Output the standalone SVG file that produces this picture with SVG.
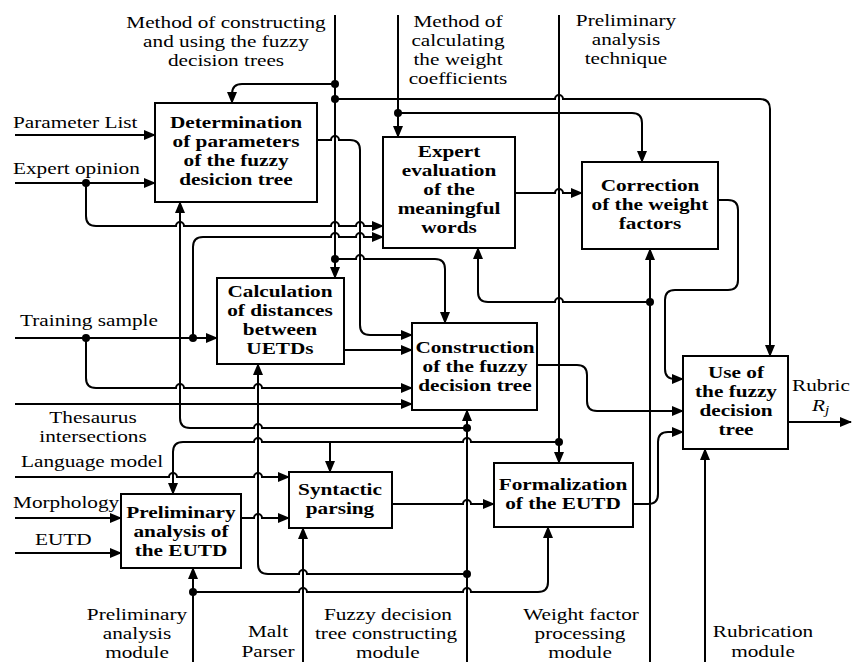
<svg xmlns="http://www.w3.org/2000/svg" width="852" height="662" viewBox="0 0 852 662">
<defs>
<marker id="ar" markerUnits="userSpaceOnUse" markerWidth="12" markerHeight="10" refX="11" refY="5" orient="auto"><path d="M0,0 L12,5 L0,10 z" fill="#000"/></marker>
<style>
.box{fill:#fff;stroke:#000;stroke-width:2}
.bt{font-family:"Liberation Serif",serif;font-weight:bold;font-size:17px;text-anchor:middle}
.lt{font-family:"Liberation Serif",serif;font-size:17px}
.m{text-anchor:middle}
.c{fill:none;stroke:#000;stroke-width:2}
.a{marker-end:url(#ar)}
.d{fill:#000}
</style>
</defs>
<g id="labels">
<text class="lt m" transform="translate(226,0) scale(1.25,1)"><tspan x="0" y="28">Method of constructing</tspan><tspan x="0" y="47">and using the fuzzy</tspan><tspan x="0" y="66">decision trees</tspan></text>
<text class="lt m" transform="translate(458,0) scale(1.25,1)"><tspan x="0" y="27">Method of</tspan><tspan x="0" y="46">calculating</tspan><tspan x="0" y="65">the weight</tspan><tspan x="0" y="84">coefficients</tspan></text>
<text class="lt m" transform="translate(626,0) scale(1.25,1)"><tspan x="0" y="26">Preliminary</tspan><tspan x="0" y="45">analysis</tspan><tspan x="0" y="64">technique</tspan></text>
<text class="lt" transform="translate(13,0) scale(1.25,1)" x="0" y="128">Parameter List</text>
<text class="lt" transform="translate(13,0) scale(1.25,1)" x="0" y="174">Expert opinion</text>
<text class="lt" transform="translate(20,0) scale(1.25,1)" x="0" y="326">Training sample</text>
<text class="lt m" transform="translate(93,0) scale(1.25,1)"><tspan x="0" y="423">Thesaurus</tspan><tspan x="0" y="442">intersections</tspan></text>
<text class="lt" transform="translate(21,0) scale(1.25,1)" x="0" y="467">Language model</text>
<text class="lt" transform="translate(13,0) scale(1.25,1)" x="0" y="508">Morphology</text>
<text class="lt" transform="translate(35,0) scale(1.25,1)" x="0" y="545">EUTD</text>
<text class="lt m" transform="translate(137,0) scale(1.25,1)"><tspan x="0" y="620">Preliminary</tspan><tspan x="0" y="639">analysis</tspan><tspan x="0" y="658">module</tspan></text>
<text class="lt m" transform="translate(268,0) scale(1.25,1)"><tspan x="0" y="637">Malt</tspan><tspan x="0" y="657">Parser</tspan></text>
<text class="lt m" transform="translate(386,0) scale(1.25,1)"><tspan x="1.5" y="620">Fuzzy decision</tspan><tspan x="0" y="639">tree constructing</tspan><tspan x="1.5" y="658">module</tspan></text>
<text class="lt m" transform="translate(580,0) scale(1.25,1)"><tspan x="0.8" y="620">Weight factor</tspan><tspan x="0" y="639">processing</tspan><tspan x="0" y="658">module</tspan></text>
<text class="lt m" transform="translate(763,0) scale(1.25,1)"><tspan x="0" y="637">Rubrication</tspan><tspan x="0" y="657">module</tspan></text>
<text class="lt" transform="translate(792,0) scale(1.25,1)" x="0" y="391">Rubric</text>
<text class="lt" transform="translate(812,0) scale(1.25,1)" x="0" y="411" font-style="italic">R<tspan font-size="12px" dy="3">j</tspan></text>
</g>
<g id="connectors">
<path class="c a" d="M335,15 V278"/>
<path class="c a" d="M335,84 H242 Q232,84 232,94 V103"/>
<path class="c a" d="M335,99 H555 a4,4 0 0 1 8,0 H760 Q770,99 770,109 V356"/>
<path class="c a" d="M335,259 H356 a4,4 0 0 1 8,0 H435 Q445,259 445,269 V323"/>
<path class="c a" d="M398,15 V137"/>
<path class="c a" d="M398,113 H632 Q642,113 642,123 V162"/>
<path class="c a" d="M559,15 V463"/>
<path class="c a" d="M559,442 H471 a4,4 0 0 0 -8,0 H262 a4,4 0 0 0 -8,0 H183 Q173,442 173,452 V494"/>
<path class="c a" d="M330,442 V472"/>
<path class="c a" d="M15,135 H155"/>
<path class="c a" d="M15,183 H155"/>
<path class="c a" d="M86,183 V216 Q86,226 96,226 H176 a4,4 0 0 1 8,0 H331 a4,4 0 0 1 8,0 H356 a4,4 0 0 1 8,0 H383"/>
<path class="c a" d="M317,140 H331 a4,4 0 0 1 8,0 H350 Q360,140 360,150 V325 Q360,335 370,335 H412"/>
<path class="c a" d="M15,338 H217"/>
<path class="c a" d="M193,338 V247 Q193,237 203,237 H331 a4,4 0 0 1 8,0 H356 a4,4 0 0 1 8,0 H383"/>
<path class="c a" d="M86,338 V378 Q86,388 96,388 H176 a4,4 0 0 1 8,0 H254 a4,4 0 0 1 8,0 H412"/>
<path class="c a" d="M344,350 H412"/>
<path class="c a" d="M15,404 H412"/>
<path class="c a" d="M515,193 H555 a4,4 0 0 1 8,0 H582"/>
<path class="c a" d="M650,662 V249"/>
<path class="c a" d="M650,302 H563 a4,4 0 0 0 -8,0 H488 Q478,302 478,292 V248"/>
<path class="c a" d="M718,200 H728 Q738,200 738,210 V280 Q738,290 728,290 H675 Q665,290 665,300 V369 Q665,379 675,379 H683"/>
<path class="c a" d="M537,365 H577 Q587,365 587,375 V401 Q587,411 597,411 H683"/>
<path class="c a" d="M633,504 H648 Q658,504 658,494 V442 Q658,432 668,432 H683"/>
<path class="c a" d="M788,422 H851"/>
<path class="c a" d="M705,662 V449"/>
<path class="c a" d="M467,662 V410"/>
<path class="c a" d="M467,428 H262 a4,4 0 0 0 -8,0 H190 Q180,428 180,418 V202"/>
<path class="c a" d="M467,574 H307 a4,4 0 0 0 -8,0 H268 Q258,574 258,564 V364"/>
<path class="c a" d="M15,477 H169 a4,4 0 0 1 8,0 H254 a4,4 0 0 1 8,0 H289"/>
<path class="c a" d="M15,518 H121"/>
<path class="c a" d="M15,553 H121"/>
<path class="c a" d="M241,518 H254 a4,4 0 0 1 8,0 H289"/>
<path class="c a" d="M392,504 H463 a4,4 0 0 1 8,0 H494"/>
<path class="c a" d="M303,662 V528"/>
<path class="c a" d="M193,662 V568"/>
<path class="c a" d="M193,592 H299 a4,4 0 0 1 8,0 H463 a4,4 0 0 1 8,0 H538 Q548,592 548,582 V527"/>
<circle class="d" cx="335" cy="84" r="4"/>
<circle class="d" cx="335" cy="99" r="4"/>
<circle class="d" cx="398" cy="113" r="4"/>
<circle class="d" cx="86" cy="183" r="4"/>
<circle class="d" cx="86" cy="338" r="4"/>
<circle class="d" cx="193" cy="338" r="4"/>
<circle class="d" cx="335" cy="259" r="4"/>
<circle class="d" cx="650" cy="302" r="4"/>
<circle class="d" cx="559" cy="442" r="4"/>
<circle class="d" cx="467" cy="428" r="4"/>
<circle class="d" cx="467" cy="574" r="4"/>
<circle class="d" cx="193" cy="592" r="4"/>
</g>
<g id="determination"><rect class="box" x="155" y="103" width="162" height="99"/><text class="bt" transform="translate(236,0) scale(1.25,1)"><tspan x="0" y="128">Determination</tspan><tspan x="0" y="147">of parameters</tspan><tspan x="0" y="166">of the fuzzy</tspan><tspan x="0" y="185">desicion tree</tspan></text></g>
<g id="expert"><rect class="box" x="383" y="137" width="132" height="111"/><text class="bt" transform="translate(449,0) scale(1.25,1)"><tspan x="0" y="157">Expert</tspan><tspan x="0" y="176">evaluation</tspan><tspan x="0" y="195">of the</tspan><tspan x="0" y="214">meaningful</tspan><tspan x="0" y="233">words</tspan></text></g>
<g id="correction"><rect class="box" x="582" y="162" width="136" height="87"/><text class="bt" transform="translate(650,0) scale(1.25,1)"><tspan x="0" y="191">Correction</tspan><tspan x="0" y="210">of the weight</tspan><tspan x="0" y="229">factors</tspan></text></g>
<g id="calculation"><rect class="box" x="217" y="278" width="127" height="86"/><text class="bt" transform="translate(280,0) scale(1.25,1)"><tspan x="0" y="297">Calculation</tspan><tspan x="0" y="316">of distances</tspan><tspan x="0" y="335">between</tspan><tspan x="0" y="354">UETDs</tspan></text></g>
<g id="construction"><rect class="box" x="412" y="323" width="125" height="87"/><text class="bt" transform="translate(475,0) scale(1.25,1)"><tspan x="0" y="353">Construction</tspan><tspan x="0" y="372">of the fuzzy</tspan><tspan x="0" y="391">decision tree</tspan></text></g>
<g id="use"><rect class="box" x="683" y="356" width="105" height="93"/><text class="bt" transform="translate(736,0) scale(1.25,1)"><tspan x="0" y="378">Use of</tspan><tspan x="0" y="397">the fuzzy</tspan><tspan x="0" y="416">decision</tspan><tspan x="0" y="435">tree</tspan></text></g>
<g id="preliminary"><rect class="box" x="121" y="494" width="120" height="74"/><text class="bt" transform="translate(181,0) scale(1.25,1)"><tspan x="0" y="518">Preliminary</tspan><tspan x="0" y="537">analysis of</tspan><tspan x="0" y="556">the EUTD</tspan></text></g>
<g id="syntactic"><rect class="box" x="289" y="472" width="103" height="56"/><text class="bt" transform="translate(340,0) scale(1.25,1)"><tspan x="0" y="495">Syntactic</tspan><tspan x="0" y="514">parsing</tspan></text></g>
<g id="formalization"><rect class="box" x="494" y="463" width="139" height="64"/><text class="bt" transform="translate(563,0) scale(1.25,1)"><tspan x="0" y="490">Formalization</tspan><tspan x="0" y="509">of the EUTD</tspan></text></g>
</svg>
